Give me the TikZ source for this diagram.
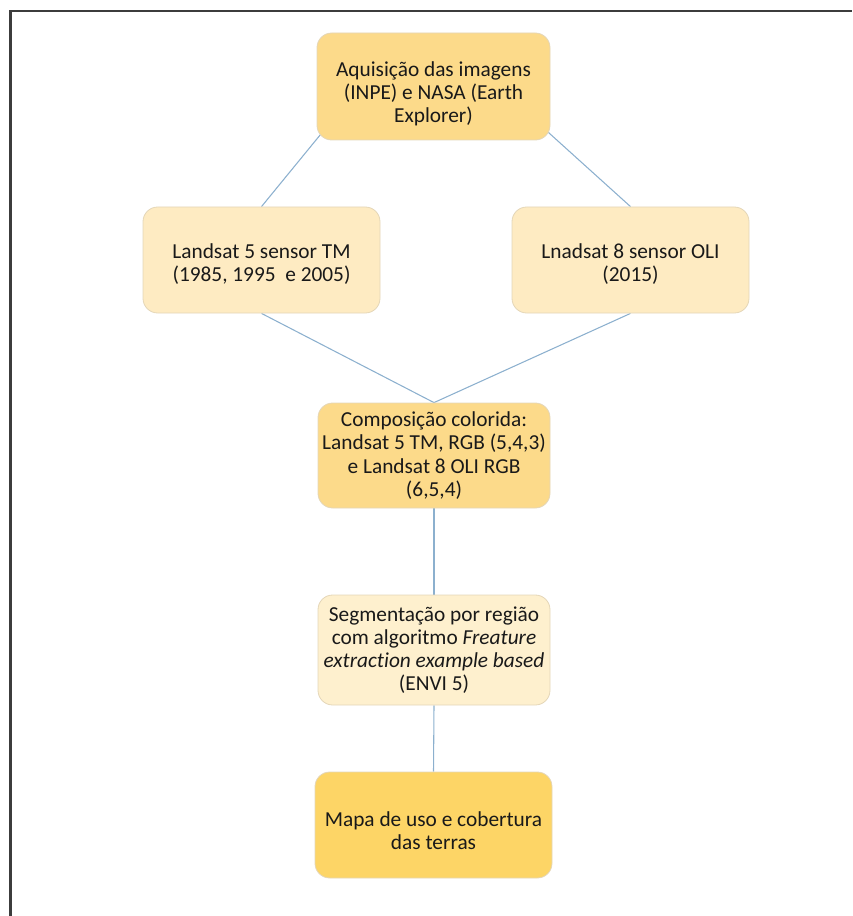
\documentclass[tikz,border=0pt]{standalone}
\usepackage{fontspec}
\setmainfont{Carlito}[Ligatures=NoCommon]
\usetikzlibrary{backgrounds,calc}
\definecolor{goldA}{RGB}{252,218,138}
\definecolor{paleA}{RGB}{254,235,194}
\definecolor{paleB}{RGB}{254,240,206}
\definecolor{goldB}{RGB}{253,213,102}
\definecolor{edgeC}{RGB}{228,214,184}
\definecolor{linkC}{RGB}{140,176,206}
\definecolor{frameC}{RGB}{60,60,60}
\definecolor{textC}{RGB}{25,25,25}
\tikzset{
  box/.style={rectangle, rounded corners=11pt, draw=edgeC, line width=0.6pt,
    align=center, inner sep=2pt, text=textC,
    font=\fontsize{16pt}{17.4pt}\selectfont},
  link/.style={draw=linkC, line width=0.8pt}
}
\begin{document}
\begin{tikzpicture}[x=0.75pt,y=-0.75pt]
\useasboundingbox (0,0) rectangle (852,916);
\draw[frameC, line width=1.8pt] (10.5,916) -- (10.5,11) -- (852,11);
\node[box, fill=goldA, minimum width=233*0.75pt, minimum height=107*0.75pt] (b1) at (433.5,86.5)
  {\rule{0pt}{22pt}Aquisição das imagens\\(INPE) e NASA (Earth\\Explorer)};
\node[box, fill=paleA, minimum width=237*0.75pt, minimum height=106*0.75pt] (b2) at (261.5,260)
  {\rule{0pt}{17pt}Landsat 5 sensor TM\\(1985, 1995~ e 2005)};
\node[box, fill=paleA, minimum width=237*0.75pt, minimum height=106*0.75pt] (b3) at (630.5,260)
  {\rule{0pt}{17pt}Lnadsat 8 sensor OLI\\(2015)};
\node[box, fill=goldA, minimum width=232*0.75pt, minimum height=105*0.75pt] (b4) at (434,455.5)
  {Composição colorida:\\Landsat 5 TM, RGB (5,4,3)\\e Landsat 8 OLI RGB\\(6,5,4)};
\node[box, fill=paleB, minimum width=232*0.75pt, minimum height=110*0.75pt] (b5) at (434,650)
  {Segmentação por região\\com algoritmo \textit{Freature}\\\textit{extraction example based}\\(ENVI 5)};
\node[box, fill=goldB, minimum width=237*0.75pt, minimum height=106*0.75pt] (b6) at (433.5,825)
  {\rule{0pt}{20pt}Mapa de uso e cobertura\\das terras};
\coordinate (b1l) at ($(b1.south west)+(13,-17)$);
\coordinate (b1r) at ($(b1.south east)+(-12,-17)$);
\begin{scope}[on background layer]
\draw[link] (b1l) -- (b2.north);
\draw[link] (b1r) -- (b3.north);
\draw[link] (b2.south) -- (b4.north);
\draw[link] (b3.south) -- (b4.north);
\draw[link] (b4.south) -- (b5.north);
\draw[link] (b5.south) -- (b6.north);
\end{scope}
\end{tikzpicture}
\end{document}
